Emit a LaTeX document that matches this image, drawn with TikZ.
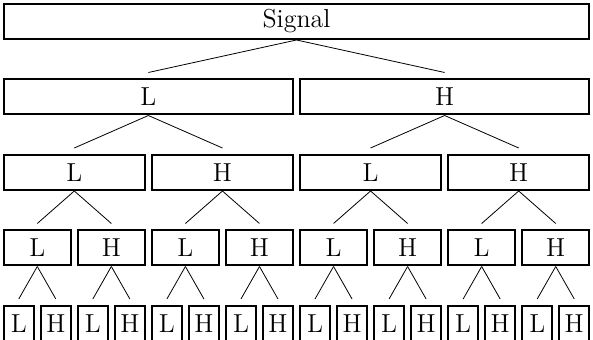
\documentclass[tikz,border=0pt]{standalone}

\begin{document}
\begin{tikzpicture}[x=0.5pt,y=-0.5pt,font=\fontsize{13}{15}\selectfont,
    band/.style={draw,line width=1pt,inner sep=0pt,minimum height=17.5pt}]
  \useasboundingbox (0,0) rectangle (593,340);
  % Level 0 holds the whole signal; box i of level k splits into 2i (L) and 2i+1 (H).
  \node[band,minimum width=292.5pt] (b0-0) at (296.5,21.5) {Signal};
  \foreach \k in {1,...,4} {
    \pgfmathtruncatemacro{\n}{2^\k}
    \pgfmathtruncatemacro{\last}{\n-1}
    \pgfmathtruncatemacro{\up}{\k-1}
    \pgfmathsetmacro{\pitch}{592.5/\n}
    \foreach \i in {0,...,\last} {
      \pgfmathtruncatemacro{\odd}{mod(\i,2)}
      \pgfmathtruncatemacro{\parent}{(\i-\odd)/2}
      \ifnum\odd=0 \def\band{L}\else \def\band{H}\fi
      \node[band,minimum width={(\pitch-7.5)*0.5pt}] (b\k-\i)
        at ({0.25+(\i+0.5)*\pitch},{21.5+75.5*\k}) {\band};
      \draw (b\up-\parent.south) -- ([yshift=3pt]b\k-\i.north);
    }
  }
\end{tikzpicture}
\end{document}
